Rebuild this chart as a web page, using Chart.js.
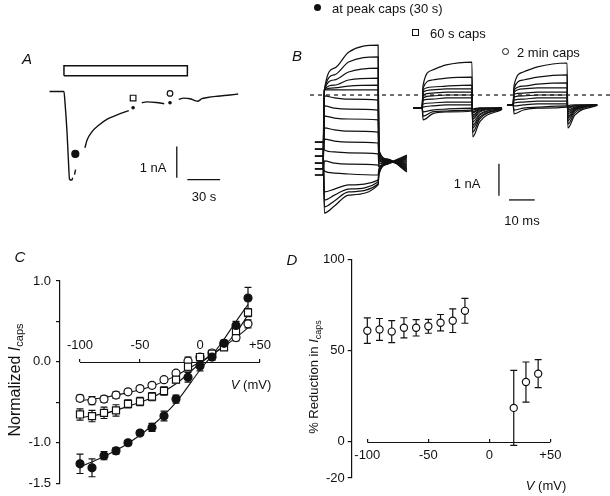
<!DOCTYPE html>
<html>
<head>
<meta charset="utf-8">
<script src="https://cdn.jsdelivr.net/npm/chart.js@4.4.0/dist/chart.umd.min.js"></script>
<style>
  body { margin: 0; width: 610px; height: 496px; position: relative; background: #fff; overflow: hidden;
         font-family: "Liberation Sans", Arial, sans-serif; color: #111; }
  canvas { position: absolute; }
  .t { position: absolute; font-size: 13px; line-height: 1; white-space: nowrap; }
  .c { transform: translate(-50%, -50%); }
  .l { transform: translateY(-50%); }
  .panel { font-style: italic; font-size: 15px; }
  .rot { transform: translate(-50%, -50%) rotate(-90deg); }
  .big { font-size: 16px; }
  sub { font-size: 9px; vertical-align: -3px; }
  .big sub { font-size: 11px; }
  .mk { position: absolute; box-sizing: border-box; }
</style>
</head>
<body>
<canvas id="chartA" width="290" height="190" style="left:0;top:40px"></canvas>
<canvas id="chartB" width="320" height="230" style="left:290px;top:0"></canvas>
<canvas id="chartC" width="290" height="261" style="left:0;top:235px"></canvas>
<canvas id="chartD" width="320" height="261" style="left:290px;top:235px"></canvas>

<div class="t c panel" style="left:27px;top:58px">A</div>
<div class="t c" style="left:153px;top:167px">1 nA</div>
<div class="t c" style="left:204px;top:196px">30 s</div>

<div class="t c panel" style="left:297px;top:55px">B</div>
<span class="mk" style="left:314px;top:4px;width:7px;height:7px;border-radius:50%;background:#111"></span>
<div class="t l" style="left:332px;top:8px">at peak caps (30 s)</div>
<span class="mk" style="left:412px;top:29px;width:7px;height:7px;border:1.3px solid #111"></span>
<div class="t l" style="left:430px;top:33px">60 s caps</div>
<span class="mk" style="left:502px;top:48px;width:7px;height:7px;border:1.3px solid #111;border-radius:50%"></span>
<div class="t l" style="left:517px;top:52px">2 min caps</div>
<div class="t c" style="left:467px;top:183px">1 nA</div>
<div class="t c" style="left:522px;top:220px">10 ms</div>

<div class="t c panel" style="left:20px;top:256px">C</div>
<div class="t rot big" style="left:16px;top:380px">Normalized <i>I</i><sub>caps</sub></div>
<div class="t c" style="left:251px;top:384px"><i>V</i> (mV)</div>

<div class="t c panel" style="left:292px;top:259px">D</div>
<div class="t rot" style="left:315px;top:377px">% Reduction in <i>I</i><sub>caps</sub></div>
<div class="t c" style="left:546px;top:485px"><i>V</i> (mV)</div>

<script>
// ---- Panel A: current trace during caps application (t in s, I in nA) ----
const traceA1 = [[0, 0], [13.2, 0], [14.1, -0.33], [15.9, -1.24], [17.2, -2.15], [18.3, -2.81], [20.3, -2.84], [21.2, -2.76]];
const traceA2 = [[22.9, -2.66], [23.8, -2.5]];
const traceA3 = [[32.4, -1.8], [34.4, -1.55], [38.8, -1.29], [44.7, -1.09], [53.6, -0.87], [62.4, -0.74], [72.6, -0.61]];
const traceA4 = [[84.5, -0.36], [88.9, -0.33], [97.7, -0.35], [105, -0.39]];
const traceA5 = [[118.3, -0.25], [122.7, -0.21], [128.6, -0.23], [133, -0.29], [135.9, -0.31], [139.4, -0.23],
                 [144.7, -0.19], [153.6, -0.15], [165.3, -0.11], [172.7, -0.08]];
const traceADots = [[76.5, -0.52], [110.3, -0.36]];
const capsBar = [[13.2, 0.51], [126.2, 0.51], [126.2, 0.83], [13.2, 0.83], [13.2, 0.51]];
const markPeakA = [[23.6, -2.0]];
const mark60A = [[76.5, -0.21]];
const mark2minA = [[110.3, -0.06]];
const scaleA_I = [[116.5, -1.76], [116.5, -2.76]];   // 1 nA
const scaleA_t = [[126.2, -2.82], [156.2, -2.82]];   // 30 s

// ---- Panel B: current families (t in ms, I in nA) ----
// rows: [pre, onset, knee, late, end, tail onset, tail mid, tail end]
const famTimesPeak = [1.9, 5.1, 5.6, 9.5, 15, 26.5, 26.8, 30, 37.7];
const famTracesPeak = [
  [-2.5, 0.16, 0.84, 1.34, 1.56, -1.72, -2.0, -2.41],
  [-2.31, 0.16, 0.63, 1.03, 1.19, -1.75, -2.0, -2.38],
  [-2.13, 0.16, 0.47, 0.72, 0.84, -1.81, -2.03, -2.34],
  [-1.91, 0.16, 0.31, 0.47, 0.53, -1.84, -2.03, -2.31],
  [-1.69, 0.16, 0.22, 0.28, 0.31, -1.91, -2.06, -2.28],
  [-1.47, 0.16, 0.16, 0.16, 0.16, -1.94, -2.06, -2.25],
  [-2.5, -0.03, -0.09, -0.13, -0.16, -1.97, -2.06, -2.22],
  [-2.31, -0.34, -0.41, -0.44, -0.47, -2.03, -2.09, -2.19],
  [-2.13, -0.66, -0.72, -0.75, -0.78, -2.06, -2.09, -2.16],
  [-1.91, -1.03, -1.09, -1.13, -1.16, -2.13, -2.09, -2.13],
  [-1.69, -1.38, -1.44, -1.47, -1.5, -2.16, -2.09, -2.09],
  [-1.47, -1.72, -1.78, -1.81, -1.84, -2.22, -2.12, -2.06],
  [-2.5, -2.06, -2.13, -2.16, -2.19, -2.25, -2.12, -2.03],
  [-2.31, -2.38, -2.44, -2.47, -2.5, -2.31, -2.12, -2.0],
  [-2.13, -3.03, -2.94, -2.81, -2.66, -2.34, -2.12, -1.97],
  [-1.91, -3.28, -3.13, -2.94, -2.72, -2.41, -2.16, -1.94],
  [-1.69, -3.5, -3.31, -3.03, -2.78, -2.44, -2.16, -1.91],
  [-1.47, -3.69, -3.47, -3.13, -2.81, -2.5, -2.16, -1.88]
];
const famTimes60 = [40.1, 43.6, 44.0, 47.6, 53, 63, 63.3, 66, 74.7];
const famTraces60 = [
  [-0.41, 0.31, 0.78, 0.94, 1.03, -1.31, -0.84, -0.45],
  [-0.41, 0.22, 0.47, 0.53, 0.56, -1.16, -0.75, -0.44],
  [-0.41, 0.16, 0.25, 0.28, 0.31, -1.03, -0.69, -0.43],
  [-0.41, 0.09, 0.16, 0.19, 0.19, -0.94, -0.63, -0.42],
  [-0.41, 0.0, 0.06, 0.09, 0.09, -0.84, -0.59, -0.42],
  [-0.41, -0.09, -0.03, 0.0, 0.0, -0.75, -0.53, -0.41],
  [-0.41, -0.16, -0.13, -0.09, -0.09, -0.69, -0.5, -0.41],
  [-0.41, -0.28, -0.25, -0.22, -0.22, -0.63, -0.47, -0.41],
  [-0.41, -0.38, -0.34, -0.31, -0.31, -0.56, -0.44, -0.41],
  [-0.41, -0.53, -0.47, -0.44, -0.41, -0.53, -0.42, -0.41],
  [-0.41, -0.66, -0.53, -0.5, -0.47, -0.47, -0.41, -0.41],
  [-0.41, -0.78, -0.59, -0.53, -0.5, -0.44, -0.41, -0.41]
];
const famTimes2min = [76.7, 79, 79.4, 83, 88.5, 100, 100.3, 103, 111.7];
const famTraces2min = [
  [-0.31, 0.31, 0.72, 0.88, 1.0, -1.03, -0.63, -0.33],
  [-0.31, 0.22, 0.47, 0.56, 0.63, -0.91, -0.56, -0.32],
  [-0.31, 0.16, 0.28, 0.34, 0.38, -0.81, -0.5, -0.32],
  [-0.31, 0.09, 0.19, 0.22, 0.22, -0.72, -0.47, -0.31],
  [-0.31, 0.03, 0.06, 0.09, 0.09, -0.66, -0.44, -0.31],
  [-0.31, -0.06, -0.03, 0.0, 0.0, -0.59, -0.41, -0.31],
  [-0.31, -0.16, -0.13, -0.09, -0.09, -0.53, -0.39, -0.31],
  [-0.31, -0.25, -0.22, -0.19, -0.19, -0.47, -0.38, -0.31],
  [-0.31, -0.34, -0.31, -0.28, -0.28, -0.41, -0.34, -0.31],
  [-0.31, -0.47, -0.41, -0.38, -0.34, -0.38, -0.33, -0.31],
  [-0.31, -0.59, -0.47, -0.41, -0.38, -0.34, -0.31, -0.31]
];
const zeroLineB = [[0, 0], [116.7, 0]];
const scaleB_I = [[73.5, -2.15], [73.5, -3.15]];   // 1 nA
const scaleB_t = [[77.4, -3.28], [87.4, -3.28]];   // 10 ms

// ---- Panel C: normalized I-V relations ----
const voltagesC = [-100, -90, -80, -70, -60, -50, -40, -30, -20, -10, 0, 10, 20, 30, 40];
const peakCaps = [-1.26, -1.31, -1.16, -1.1, -1.0, -0.88, -0.81, -0.67, -0.46, -0.19, -0.05, 0.06, 0.23, 0.45, 0.79];
const peakErr = [0.12, 0.11, 0.05, 0.04, 0.03, 0.03, 0.05, 0.06, 0.05, 0.06, 0.06, 0.04, 0.04, 0.05, 0.13];
const caps60s = [-0.65, -0.67, -0.63, -0.6, -0.52, -0.49, -0.43, -0.36, -0.22, -0.06, 0.06, 0.1, 0.18, 0.38, 0.61];
const caps60Err = [0.07, 0.07, 0.07, 0.07, 0.05, 0.05, 0.05, 0.05, 0.04, 0.05, 0.04, 0.03, 0.03, 0.04, 0.05];
const caps2min = [-0.45, -0.48, -0.46, -0.41, -0.37, -0.33, -0.29, -0.22, -0.14, 0.01, 0.06, 0.11, 0.23, 0.3, 0.47];
const caps2minErr = [0.04, 0.05, 0.04, 0.04, 0.03, 0.03, 0.03, 0.03, 0.03, 0.05, 0.04, 0.03, 0.03, 0.04, 0.05];
const fitV = [-100, -80, -60, -40, -20, 0, 10, 20, 30, 40];
const peakFit = [-1.3, -1.17, -1.01, -0.79, -0.5, -0.1, 0.08, 0.28, 0.5, 0.71];
const fit60s = [-0.69, -0.64, -0.55, -0.44, -0.27, -0.02, 0.09, 0.2, 0.36, 0.58];
const fit2min = [-0.48, -0.44, -0.38, -0.3, -0.17, 0.0, 0.09, 0.19, 0.3, 0.42];
const cXTicks = [-100, -50, 0, 50];
const cXLabels = ['-100', '-50', '0', '+50'];
const cYTicks = [-1.5, -1, -0.5, 0, 0.5, 1];
const cYLabels = ['-1.5', '-1.0', '', '0.0', '', '1.0'];

// ---- Panel D: % reduction ----
const voltagesD = [-100, -90, -80, -70, -60, -50, -40, -30, -20, 20, 30, 40];
const reduction = [60.9, 61.6, 60.4, 62.5, 62.5, 63.3, 65.3, 66.4, 71.8, 18.5, 32.7, 37.3];
const reductionErr = [7, 6, 6, 5.5, 4.5, 3.8, 4.5, 6.5, 6.8, 20.6, 11, 7.7];
const dXTicks = [-100, -50, 0, 50];
const dXLabels = ['-100', '-50', '0', '+50'];
const dYTicks = [-20, 0, 50, 100];

const INK = '#111';
Chart.defaults.font.family = '"Liberation Sans", Arial, sans-serif';
Chart.defaults.font.size = 13;
Chart.defaults.color = INK;
Chart.defaults.animation = false;

/**
 * Vertical error bars with caps, drawn under the markers
 */
const errorBars = {
  id: 'errorBars',
  beforeDatasetsDraw(chart) {
    const ctx = chart.ctx;
    const ys = chart.scales.y;
    chart.data.datasets.forEach((ds, i) => {
      if (!ds.errors) return;
      const meta = chart.getDatasetMeta(i);
      ctx.save();
      ctx.strokeStyle = INK;
      ctx.lineWidth = 1.2;
      meta.data.forEach((pt, j) => {
        const v = ds.data[j].y, e = ds.errors[j];
        const top = ys.getPixelForValue(v + e), bot = ys.getPixelForValue(v - e);
        ctx.beginPath();
        ctx.moveTo(pt.x, top); ctx.lineTo(pt.x, bot);
        ctx.moveTo(pt.x - 3.5, top); ctx.lineTo(pt.x + 3.5, top);
        ctx.moveTo(pt.x - 3.5, bot); ctx.lineTo(pt.x + 3.5, bot);
        ctx.stroke();
      });
      ctx.restore();
    });
  }
};

/**
 * Horizontal V axis at I = 0, only over the tick range
 */
const zeroAxis = {
  id: 'zeroAxis',
  beforeDatasetsDraw(chart) {
    const xs = chart.scales.x, ys = chart.scales.y;
    const ticks = xs.ticks.map(t => t.value);
    const py = Math.round(ys.getPixelForValue(0)) + 0.5;
    const ctx = chart.ctx;
    ctx.save();
    ctx.strokeStyle = INK;
    ctx.lineWidth = 1.2;
    ctx.beginPath();
    ctx.moveTo(xs.getPixelForValue(Math.min(...ticks)), py);
    ctx.lineTo(xs.getPixelForValue(Math.max(...ticks)), py);
    ctx.stroke();
    ctx.restore();
  }
};

function pts(pairs) {
  return pairs.map(p => ({ x: p[0], y: p[1] }));
}

function line(pairs, width) {
  return { data: pts(pairs), showLine: true, borderColor: INK, borderWidth: width || 1.4,
           pointRadius: 0, cubicInterpolationMode: 'monotone' };
}

function marker(pairs, style, radius, filled) {
  return { data: pts(pairs), showLine: false, pointStyle: style, pointRadius: radius,
           pointBorderColor: INK, pointBorderWidth: 1.2, pointBackgroundColor: filled ? INK : '#fff' };
}

function hiddenScales(xMin, xMax, yMin, yMax) {
  return {
    x: { type: 'linear', display: false, min: xMin, max: xMax },
    y: { type: 'linear', display: false, min: yMin, max: yMax }
  };
}

const baseOptions = {
  responsive: false,
  devicePixelRatio: 1,
  plugins: { legend: { display: false }, tooltip: { enabled: false } }
};

/**
 * Panel A: time course of the caps-sensitive current
 */
function drawPanelA() {
  const datasets = [
    marker(markPeakA, 'circle', 3.5, true),
    marker(mark60A, 'rect', 4, false),
    marker(mark2minA, 'circle', 2.8, false),
    marker(traceADots, 'circle', 1.2, true),
    line(traceA1), line(traceA2), line(traceA3), line(traceA4), line(traceA5),
    { data: pts(capsBar), showLine: true, borderColor: INK, borderWidth: 1.5, pointRadius: 0, tension: 0 },
    line(scaleA_I, 1.3), line(scaleA_t, 1.3)
  ];
  new Chart(document.getElementById('chartA'), {
    type: 'scatter',
    data: { datasets },
    options: Object.assign({}, baseOptions, { scales: hiddenScales(-40.6, 215.4, -4.27, 1.485) })
  });
}

/**
 * Panel B: voltage-step current families
 */
function familyDatasets(times, rows) {
  return rows.map(row => {
    const values = [row[0]].concat(row);
    return {
      data: times.map((t, i) => ({ x: t, y: values[i] })),
      showLine: true, borderColor: INK, borderWidth: 1.2, pointRadius: 0,
      cubicInterpolationMode: 'monotone'
    };
  });
}

function drawPanelB() {
  const datasets = []
    .concat(familyDatasets(famTimesPeak, famTracesPeak))
    .concat(familyDatasets(famTimes60, famTraces60))
    .concat(familyDatasets(famTimes2min, famTraces2min));
  datasets.push({ data: pts(zeroLineB), showLine: true, borderColor: INK, borderWidth: 1.2,
                  borderDash: [4, 4], pointRadius: 0 });
  datasets.push(line(scaleB_I, 1.3), line(scaleB_t, 1.3));
  new Chart(document.getElementById('chartB'), {
    type: 'scatter',
    data: { datasets },
    options: Object.assign({}, baseOptions, { scales: hiddenScales(-7.78, 116.7, -4.22, 2.97) })
  });
}

function series(xs, ys) {
  return xs.map((x, i) => ({ x, y: ys[i] }));
}

function vAxis(min, max, ticks, labels, padding) {
  return {
    type: 'linear', min, max,
    position: { y: 0 },
    border: { display: false },
    grid: { drawOnChartArea: false, drawTicks: true, tickLength: -3, color: INK, lineWidth: 1.2 },
    afterBuildTicks: axis => { axis.ticks = ticks.map(v => ({ value: v })); },
    ticks: { padding, maxRotation: 0, autoSkip: false, callback: (v, i) => labels[i] }
  };
}

function yAxis(min, max, ticks, labels, width, padding) {
  return {
    type: 'linear', min, max,
    border: { display: true, color: INK, width: 1.2 },
    grid: { drawOnChartArea: false, drawTicks: true, tickLength: 4, color: INK, lineWidth: 1.2 },
    afterBuildTicks: axis => { axis.ticks = ticks.map(v => ({ value: v })); },
    afterFit: axis => { axis.width = width; },
    ticks: { padding, autoSkip: false, callback: (v, i) => labels[i] }
  };
}

/**
 * Panel C: normalized I-V curves
 */
function drawPanelC() {
  const fitLine = ys => ({ data: series(fitV, ys), showLine: true, borderColor: INK, borderWidth: 1.1,
                           pointRadius: 0, cubicInterpolationMode: 'monotone' });
  const datasets = [
    Object.assign(marker([], 'circle', 4, true), { data: series(voltagesC, peakCaps), errors: peakErr }),
    Object.assign(marker([], 'rect', 5, false), { data: series(voltagesC, caps60s), errors: caps60Err }),
    Object.assign(marker([], 'circle', 4, false), { data: series(voltagesC, caps2min), errors: caps2minErr }),
    fitLine(peakFit), fitLine(fit60s), fitLine(fit2min)
  ];
  new Chart(document.getElementById('chartC'), {
    type: 'scatter',
    data: { datasets },
    options: Object.assign({}, baseOptions, {
      layout: { padding: { top: 46, bottom: 12.5, left: 0, right: 20 } },
      scales: {
        x: vAxis(-116.67, 58.33, cXTicks, cXLabels, -21),
        y: yAxis(-1.5, 1.0, cYTicks, cYLabels, 60, 5)
      }
    }),
    plugins: [errorBars, zeroAxis]
  });
}

/**
 * Panel D: % reduction of the caps current
 */
function drawPanelD() {
  const datasets = [
    Object.assign(marker([], 'circle', 3.6, false), { data: series(voltagesD, reduction), errors: reductionErr })
  ];
  new Chart(document.getElementById('chartD'), {
    type: 'scatter',
    data: { datasets },
    options: Object.assign({}, baseOptions, {
      layout: { padding: { top: 24.5, bottom: 18, left: 0, right: 50 } },
      scales: {
        x: vAxis(-112.8, 57.9, dXTicks, dXLabels, 9),
        y: yAxis(-20, 100, dYTicks, dYTicks.map(String), 61.7, 3)
      }
    }),
    plugins: [errorBars, zeroAxis]
  });
}

document.addEventListener('DOMContentLoaded', function() {
  drawPanelA();
  drawPanelB();
  drawPanelC();
  drawPanelD();
});
</script>
</body>
</html>
